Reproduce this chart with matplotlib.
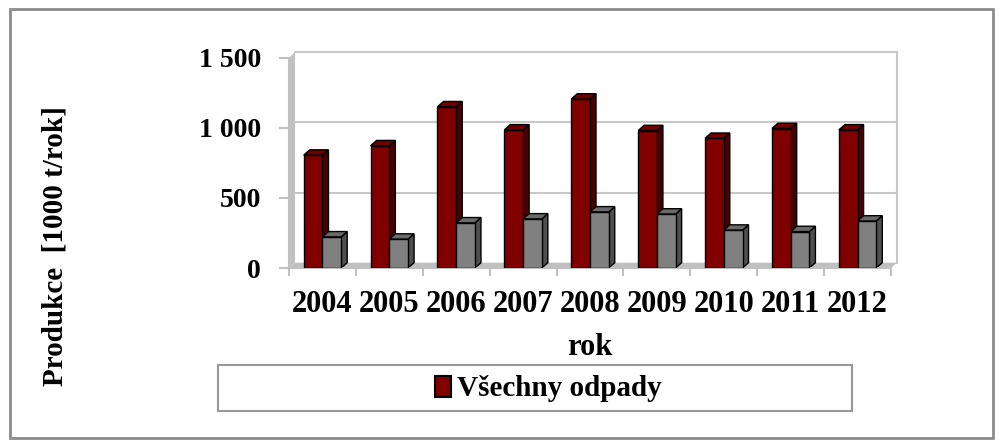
import matplotlib
matplotlib.use("Agg")
import matplotlib.pyplot as plt
from matplotlib.patches import Polygon, Rectangle
import numpy as np

years = ["2004", "2005", "2006", "2007", "2008", "2009", "2010", "2011", "2012"]
vsechny = [805, 872, 1150, 985, 1205, 980, 925, 995, 985]
druha = [222, 206, 322, 350, 400, 385, 270, 260, 335]
yticks = [0, 500, 1000, 1500]
ylabels = ["0", "500", "1 000", "1 500"]

plt.rcParams['font.family'] = ['Liberation Serif', 'DejaVu Serif']
plt.rcParams['font.weight'] = 'bold'

fig = plt.figure(figsize=(10.03, 4.47), dpi=100)
ax = fig.add_axes([289/1003, 1-268/447, 602/1003, 210.3/447])
ax.set_xlim(-0.5, 8.5)
ax.set_ylim(0, 1500)

# depth of the 3d look, in data units
dx = 0.09
dy = 38
wall = '#c0c0c0'

# walls and floor
ax.add_patch(Polygon([(-0.5, 0), (-0.5+dx, dy), (-0.5+dx, 1500+dy), (-0.5, 1500)],
                     closed=True, fc=wall, ec='none', clip_on=False, zorder=0))
ax.add_patch(Polygon([(-0.5, 0), (8.5, 0), (8.5+dx, dy), (-0.5+dx, dy)],
                     closed=True, fc=wall, ec='none', clip_on=False, zorder=0))
for v in yticks[1:]:
    ax.plot([-0.5+dx, 8.5+dx], [v+dy, v+dy], color='#c8c8c8', lw=1.5, clip_on=False, zorder=0.5)
ax.plot([8.5+dx, 8.5+dx], [dy, 1500+dy], color='#c8c8c8', lw=1.5, clip_on=False, zorder=0.5)

x = np.arange(len(years))
w = 0.28

def bars3d(xs, vals, front, side, top):
    ax.bar(xs, vals, width=w, color=front, edgecolor='black', linewidth=1, zorder=3)
    for xi, v in zip(xs, vals):
        r = xi + w/2
        l = xi - w/2
        ax.add_patch(Polygon([(r, 0), (r+dx, dy), (r+dx, v+dy), (r, v)], closed=True,
                             fc=side, ec='black', lw=1, zorder=2.5, clip_on=False))
        ax.add_patch(Polygon([(l, v), (r, v), (r+dx, v+dy), (l+dx, v+dy)], closed=True,
                             fc=top, ec='black', lw=1, zorder=2.5, clip_on=False))

bars3d(x - w/2, vsechny, '#800000', '#4a0000', '#6e0000')
bars3d(x + w/2, druha, '#808080', '#4f4f4f', '#6a6a6a')

for s in ['top', 'right']:
    ax.spines[s].set_visible(False)
ax.spines['left'].set_color('#c0c0c0')
ax.spines['bottom'].set_color('#c0c0c0')
ax.spines['left'].set_linewidth(1.5)
ax.spines['bottom'].set_linewidth(1.5)

ax.set_yticks(yticks)
ax.set_yticklabels(ylabels, fontsize=20, fontweight='bold')
ax.set_xticks(np.arange(-0.5, 9, 1), minor=False)
ax.set_xticklabels([])
ax.set_xticks(x, minor=True)
ax.set_xticklabels(years, minor=True, fontsize=22, fontweight='bold')
ax.tick_params(axis='x', which='minor', length=0, pad=16)
ax.tick_params(axis='x', which='major', length=6, color='#c0c0c0', width=1.5)
ax.tick_params(axis='y', length=7, color='#c0c0c0', width=1.5, pad=13)
ax.set_xlabel("rok", fontsize=22, fontweight='bold', labelpad=10)

fig.text(55/1003, 1-246/447, "Produkce  [1000 t/rok]", rotation=90, fontsize=21,
         fontweight='bold', ha='center', va='center')

# legend box
fig.patches.append(Rectangle((218/1003, 1-411/447), 634/1003, 46/447, transform=fig.transFigure,
                             fill=False, ec='#999999', lw=1.5))
handle = Rectangle((0, 0), 1, 1, fc='#800000', ec='black', lw=1.5)
fig.legend([handle], ["Všechny odpady"], loc='center', bbox_to_anchor=(548/1003, 1-389/447),
           frameon=False, prop={'size': 21, 'weight': 'bold'}, handlelength=0.55, handleheight=0.7,
           handletextpad=0.2)

# outer frame
fig.patches.append(Rectangle((10/1003, 9/447), 983/1003, 429/447, transform=fig.transFigure,
                             fill=False, ec='#8c8c8c', lw=2))

fig.savefig("out.png", dpi=100)
